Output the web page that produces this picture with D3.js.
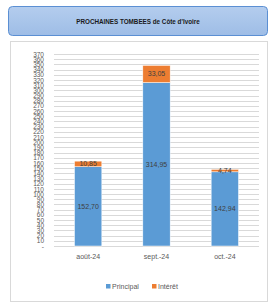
<!DOCTYPE html>
<html>
<head>
<meta charset="utf-8">
<script src="https://cdn.jsdelivr.net/npm/d3@7"></script>
<style>
  body { margin: 0; background: #ffffff; }
  svg { display: block; font-family: "Liberation Sans", Arial, sans-serif; }
</style>
</head>
<body>
<script>
// Chart data
var months = ["août-24", "sept.-24", "oct.-24"]
var principal = [152.70, 314.95, 142.94]
var interet = [10.85, 33.05, 4.74]
var tickValues = d3.range(0, 371, 10)
var seriesNames = ["Principal", "Intérêt"]
var seriesColors = ["#5b9bd5", "#ed7d31"]

var width = 273, height = 306
var margin = {top: 54, right: 14, bottom: 60, left: 54}

var svg = d3.select("body").append("svg")
            .attr("width", width)
            .attr("height", height)

// Header box with title
var defs = svg.append("defs")
var grad = defs.append("linearGradient")
               .attr("id", "headGrad")
               .attr("x1", 0).attr("y1", 0).attr("x2", 0).attr("y2", 1)
grad.append("stop").attr("offset", "0%").attr("stop-color", "#b4cdee")
grad.append("stop").attr("offset", "100%").attr("stop-color", "#9ebde6")

svg.append("rect")
   .attr("x", 8.5).attr("y", 6.5)
   .attr("width", 259).attr("height", 29)
   .attr("rx", 4)
   .attr("fill", "url(#headGrad)")
   .attr("stroke", "#5b8fd3")
   .attr("stroke-width", 1)

svg.append("text")
   .attr("x", 138).attr("y", 23.5)
   .attr("text-anchor", "middle")
   .style("font-size", "6.3px")
   .style("font-weight", "bold")
   .attr("fill", "#1a1a1a")
   .text("PROCHAINES TOMBEES de Côte d'Ivoire")

// Chart frame
svg.append("rect")
   .attr("x", 10.5).attr("y", 41.5)
   .attr("width", 257).attr("height", 260)
   .attr("fill", "#ffffff")
   .attr("stroke", "#d9d9d9")

var x = d3.scaleBand()
          .domain(months)
          .range([margin.left, width - margin.right])
          .paddingInner(0.6)
          .paddingOuter(0.3)

var y = d3.scaleLinear()
          .domain([0, 370])
          .range([246, margin.top])

// Gridlines
svg.append("g")
   .selectAll("line")
   .data(tickValues)
   .enter().append("line")
   .attr("x1", margin.left)
   .attr("x2", width - margin.right)
   .attr("y1", function(d){ return Math.round(y(d)) + 0.5 })
   .attr("y2", function(d){ return Math.round(y(d)) + 0.5 })
   .attr("stroke", "#d9d9d9")
   .attr("stroke-width", 1)

// Y axis labels
var yAxis = d3.axisLeft(y)
              .tickValues(tickValues)
              .tickSize(0)
              .tickPadding(0)
              .tickFormat(function(d){ return d == 0 ? "-" : d })

var gy = svg.append("g")
            .attr("transform", "translate(44,0)")
            .call(yAxis)
gy.select(".domain").remove()
gy.selectAll("text")
  .style("font-size", "6.5px")
  .style("font-family", "Liberation Sans, Arial, sans-serif")
  .attr("fill", "#595959")

// Stacked bars
var stacked = months.map(function(m, i){
  return {month: m, p: principal[i], t: interet[i]}
})

var bars = svg.append("g")
              .selectAll("g")
              .data(stacked)
              .enter().append("g")

bars.append("rect")
    .attr("x", function(d){ return x(d.month) })
    .attr("width", x.bandwidth())
    .attr("y", function(d){ return y(d.p) })
    .attr("height", function(d){ return y(0) - y(d.p) })
    .attr("fill", seriesColors[0])
    .attr("stroke", "#ffffff")
    .attr("stroke-width", 0.5)

bars.append("rect")
    .attr("x", function(d){ return x(d.month) })
    .attr("width", x.bandwidth())
    .attr("y", function(d){ return y(d.p + d.t) })
    .attr("height", function(d){ return y(d.p) - y(d.p + d.t) })
    .attr("fill", seriesColors[1])
    .attr("stroke", "#ffffff")
    .attr("stroke-width", 0.5)

var fmt = function(v){ return v.toFixed(2).replace(".", ",") }

bars.append("text")
    .attr("x", function(d){ return x(d.month) + x.bandwidth() / 2 })
    .attr("y", function(d){ return y(d.p / 2) + 2.5 })
    .attr("text-anchor", "middle")
    .style("font-size", "7px")
    .attr("fill", "#404040")
    .text(function(d){ return fmt(d.p) })

bars.append("text")
    .attr("x", function(d){ return x(d.month) + x.bandwidth() / 2 })
    .attr("y", function(d){ return y(d.p + d.t / 2) + 2.5 })
    .attr("text-anchor", "middle")
    .style("font-size", "7px")
    .attr("fill", "#404040")
    .text(function(d){ return fmt(d.t) })

// X axis labels
svg.append("g")
   .selectAll("text")
   .data(months)
   .enter().append("text")
   .attr("x", function(d){ return x(d) + x.bandwidth() / 2 })
   .attr("y", 258.5)
   .attr("text-anchor", "middle")
   .style("font-size", "7px")
   .attr("fill", "#595959")
   .text(function(d){ return d })

// Legend
var legendX = [106, 152]
var legend = svg.append("g")
                .selectAll("g")
                .data(seriesNames)
                .enter().append("g")
                .attr("transform", function(d, i){ return "translate(" + legendX[i] + ",284)" })

legend.append("rect")
      .attr("width", 4.5)
      .attr("height", 4.5)
      .attr("fill", function(d, i){ return seriesColors[i] })

legend.append("text")
      .attr("x", 6)
      .attr("y", 4.6)
      .style("font-size", "7px")
      .attr("fill", "#595959")
      .text(function(d){ return d })
</script>
</body>
</html>
